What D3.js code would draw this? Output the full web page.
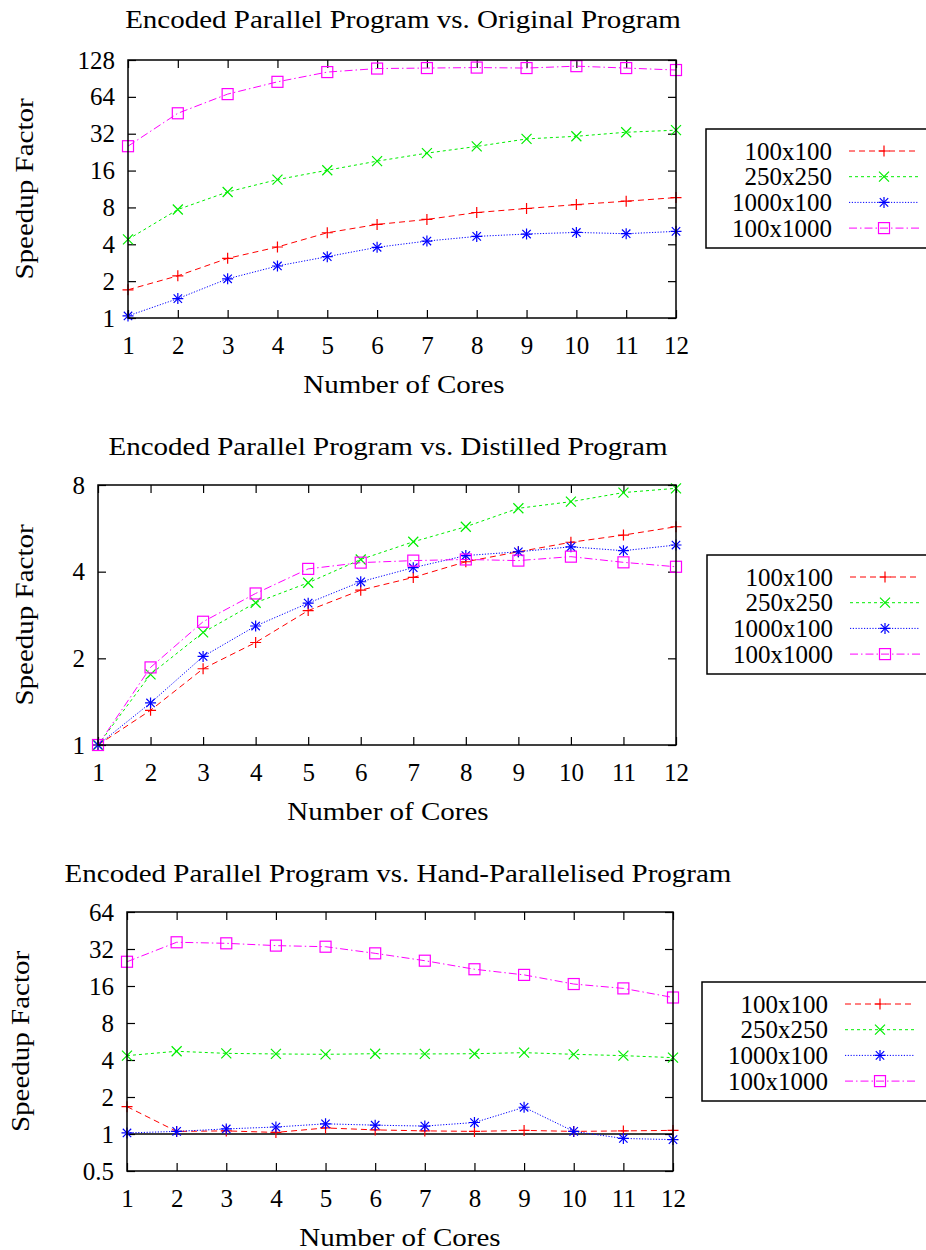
<!DOCTYPE html>
<html>
<head>
<meta charset="utf-8">
<script src="https://cdn.jsdelivr.net/npm/d3@7"></script>
<style>
  body { margin: 0; background: #fff; }
  svg text { font-family: "Liberation Serif", serif; fill: #000; }
</style>
</head>
<body>
<div id="chart"></div>
<script>
// cores on the x axis
var cores = [1, 2, 3, 4, 5, 6, 7, 8, 9, 10, 11, 12];
var seriesNames = ["100x100", "250x250", "1000x100", "100x1000"];

// speedup vs original program
var orig100x100  = [1.70, 2.21, 3.07, 3.80, 4.97, 5.81, 6.38, 7.27, 7.84, 8.44, 8.99, 9.63];
var orig250x250  = [4.39, 7.69, 10.7, 13.5, 16.1, 19.1, 22.2, 25.2, 29.0, 30.5, 32.9, 34.2];
var orig1000x100 = [1.04, 1.44, 2.09, 2.66, 3.17, 3.78, 4.25, 4.64, 4.85, 5.00, 4.88, 5.10];
var orig100x1000 = [25.3, 47.0, 67.4, 84.9, 102, 109, 110, 111, 110, 114, 110, 106];

// speedup vs distilled program
var dist100x100  = [1.00, 1.32, 1.84, 2.27, 2.93, 3.45, 3.82, 4.33, 4.69, 5.06, 5.36, 5.73];
var dist250x250  = [1.00, 1.76, 2.46, 3.12, 3.66, 4.41, 5.08, 5.73, 6.64, 7.00, 7.53, 7.79];
var dist1000x100 = [1.00, 1.40, 2.03, 2.59, 3.11, 3.69, 4.13, 4.55, 4.69, 4.88, 4.73, 4.95];
var dist100x1000 = [1.00, 1.86, 2.68, 3.36, 4.09, 4.30, 4.37, 4.41, 4.37, 4.51, 4.31, 4.16];

// speedup vs hand-parallelised program
var hand100x100  = [1.67, 1.05, 1.06, 1.03, 1.12, 1.08, 1.06, 1.05, 1.07, 1.05, 1.06, 1.07];
var hand250x250  = [4.34, 4.71, 4.53, 4.48, 4.45, 4.50, 4.48, 4.50, 4.59, 4.45, 4.34, 4.18];
var hand1000x100 = [1.02, 1.05, 1.10, 1.14, 1.21, 1.18, 1.16, 1.24, 1.65, 1.05, 0.92, 0.90];
var hand100x1000 = [25.2, 36.3, 35.6, 34.1, 33.4, 29.5, 25.7, 21.9, 19.7, 16.6, 15.3, 12.9];

// tick labels
var yTicksOrig = [1, 2, 4, 8, 16, 32, 64, 128];
var yTicksDist = [1, 2, 4, 8];
var yTicksHand = [0.5, 1, 2, 4, 8, 16, 32, 64];

var titles = [
  "Encoded Parallel Program vs. Original Program",
  "Encoded Parallel Program vs. Distilled Program",
  "Encoded Parallel Program vs. Hand-Parallelised Program"
];

var width = 926, height = 1250;
var svg = d3.select("#chart").append("svg")
  .attr("width", width)
  .attr("height", height);

var styles = [
  {color: "#ff0000", dash: "6,4",       marker: "plus"},
  {color: "#00ee00", dash: "3,3",       marker: "cross"},
  {color: "#0000ff", dash: "1.2,1.6",   marker: "star"},
  {color: "#ff00ff", dash: "8,3,1.5,3", marker: "box"}
];

var fontSize = 25;
// the TeX font of the original is wider in its letters than Liberation Serif
var wordStretch = 1.16;

function stretch(sel) {
  sel.each(function() {
    var len = this.getComputedTextLength();
    d3.select(this).attr("textLength", len * wordStretch)
      .attr("lengthAdjust", "spacingAndGlyphs");
  });
}

function marker(g, type, x, y, color) {
  var s = 5.5;
  if (type == "plus" || type == "star") {
    g.append("path").attr("d", `M${x-s},${y}H${x+s}M${x},${y-s}V${y+s}`)
      .attr("stroke", color).attr("stroke-width", 1.2).attr("fill", "none");
  }
  if (type == "cross" || type == "star") {
    var c = type == "star" ? 4.2 : 5;
    g.append("path").attr("d", `M${x-c},${y-c}L${x+c},${y+c}M${x-c},${y+c}L${x+c},${y-c}`)
      .attr("stroke", color).attr("stroke-width", 1.2).attr("fill", "none");
  }
  if (type == "box") {
    g.append("rect").attr("x", x-5.5).attr("y", y-5.5).attr("width", 11).attr("height", 11)
      .attr("stroke", color).attr("stroke-width", 1.2).attr("fill", "none");
  }
}

function drawPanel(p) {
  var g = svg.append("g");

  var xScale = d3.scaleLinear()
    .domain([1, 12])
    .range([p.left, p.right]);

  var yScale = d3.scaleLog().base(2)
    .domain(p.yDomain)
    .range([p.bottom, p.top]);

  // ticks pointing inwards on all four sides
  g.append("g")
    .attr("transform", `translate(${p.left},0)`)
    .call(d3.axisLeft(yScale).tickValues(p.yTicks).tickFormat(d => d)
      .tickSize(-8).tickPadding(13))
    .call(a => a.select(".domain").remove())
    .call(a => a.selectAll("text").style("font-size", fontSize + "px"));
  g.append("g")
    .attr("transform", `translate(${p.right},0)`)
    .call(d3.axisRight(yScale).tickValues(p.yTicks).tickFormat("").tickSize(-8))
    .call(a => a.select(".domain").remove());
  g.append("g")
    .attr("transform", `translate(0,${p.bottom})`)
    .call(d3.axisBottom(xScale).tickValues(cores).tickFormat(d => d)
      .tickSize(-8).tickPadding(18))
    .call(a => a.select(".domain").remove())
    .call(a => a.selectAll("text").style("font-size", fontSize + "px"));
  g.append("g")
    .attr("transform", `translate(0,${p.top})`)
    .call(d3.axisTop(xScale).tickValues(cores).tickFormat("").tickSize(-8))
    .call(a => a.select(".domain").remove());
  g.selectAll(".tick line").attr("stroke", "#000").attr("stroke-width", 1.2);

  if (p.refLine) {
    g.append("line")
      .attr("x1", xScale(1)).attr("x2", xScale(12))
      .attr("y1", yScale(1)).attr("y2", yScale(1))
      .attr("stroke", "#000").attr("stroke-width", 1.3);
  }

  var line = d3.line()
    .x((d, i) => xScale(cores[i]))
    .y(d => yScale(d));

  p.series.forEach(function(values, k) {
    var st = styles[k];
    g.append("path")
      .datum(values)
      .attr("d", line)
      .attr("fill", "none")
      .attr("stroke", st.color)
      .attr("stroke-width", 1)
      .attr("stroke-dasharray", st.dash);
    values.forEach(function(v, i) {
      marker(g, st.marker, xScale(cores[i]), yScale(v), st.color);
    });
  });

  g.append("rect")
    .attr("x", p.left).attr("y", p.top)
    .attr("width", p.right - p.left).attr("height", p.bottom - p.top)
    .attr("fill", "none").attr("stroke", "#000").attr("stroke-width", 1.5);

  g.append("text")
    .attr("x", p.titleX).attr("y", p.titleY)
    .attr("text-anchor", "middle")
    .attr("dominant-baseline", "central")
    .style("font-size", fontSize + "px")
    .text(p.title)
    .call(stretch);

  g.append("text")
    .attr("x", p.xLabelX).attr("y", p.xLabelY)
    .attr("text-anchor", "middle")
    .attr("dominant-baseline", "central")
    .style("font-size", fontSize + "px")
    .text("Number of Cores")
    .call(stretch);

  g.append("text")
    .attr("transform", `translate(${p.yLabelX},${(p.top + p.bottom) / 2}) rotate(-90)`)
    .attr("text-anchor", "middle")
    .attr("dominant-baseline", "central")
    .style("font-size", fontSize + "px")
    .text("Speedup Factor")
    .call(stretch);

  // legend
  var lg = g.append("g");
  lg.append("rect")
    .attr("x", p.legX).attr("y", p.legY)
    .attr("width", 260).attr("height", 119)
    .attr("fill", "none").attr("stroke", "#000").attr("stroke-width", 1.5);
  seriesNames.forEach(function(name, k) {
    var st = styles[k];
    var cy = p.legY + 22 + k * 25.7;
    lg.append("text")
      .attr("x", p.legX + 126).attr("y", cy)
      .attr("text-anchor", "end")
      .attr("dominant-baseline", "central")
      .style("font-size", fontSize + "px")
      .text(name);
    lg.append("line")
      .attr("x1", p.legX + 143).attr("x2", p.legX + 213)
      .attr("y1", cy).attr("y2", cy)
      .attr("stroke", st.color).attr("stroke-width", 1)
      .attr("stroke-dasharray", st.dash);
    marker(lg, st.marker, p.legX + 178, cy, st.color);
  });
}

drawPanel({
  title: titles[0], titleX: 403, titleY: 19,
  left: 128, right: 676, top: 60, bottom: 318,
  yDomain: [1, 128], yTicks: yTicksOrig,
  xLabelX: 404, xLabelY: 384, yLabelX: 24,
  legX: 706, legY: 129,
  series: [orig100x100, orig250x250, orig1000x100, orig100x1000]
});

drawPanel({
  title: titles[1], titleX: 388, titleY: 446,
  left: 98, right: 676, top: 485, bottom: 745,
  yDomain: [1, 8], yTicks: yTicksDist,
  xLabelX: 388, xLabelY: 811, yLabelX: 24,
  legX: 707, legY: 555,
  series: [dist100x100, dist250x250, dist1000x100, dist100x1000]
});

drawPanel({
  title: titles[2], titleX: 398, titleY: 873,
  left: 127, right: 673, top: 912, bottom: 1171,
  yDomain: [0.5, 64], yTicks: yTicksHand,
  xLabelX: 400, xLabelY: 1237, yLabelX: 20, refLine: true,
  legX: 702, legY: 982,
  series: [hand100x100, hand250x250, hand1000x100, hand100x1000]
});
</script>
</body>
</html>
